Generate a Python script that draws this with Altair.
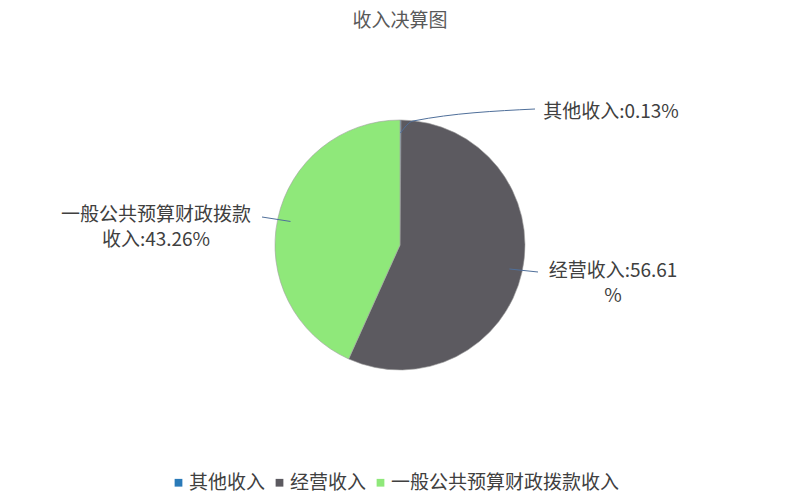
import altair as alt
import pandas as pd
import numpy as np

# ---- data ----
categories = ["其他收入", "经营收入", "一般公共预算财政拨款收入"]
shares = [0.13, 56.61, 43.26]
label_texts = ["其他收入:0.13%", "经营收入:56.61\n%", "一般公共预算财政拨款\n收入:43.26%"]
title_text = "收入决算图"

# ---- styles / layout ----
colors = ["#2a7ab8", "#5c5a60", "#8fe87a"]
FONT = "Noto Sans CJK SC"
FS = 19
W, H = 784, 474
R = 125
LEAD_R = 112
label_pos = [(211, 133), (213, -26), (-244, 30)]
leader_mid = [[(13, 124)], [], []]
leader_end = [(135, 136), (138, -27), (-138, 28)]

sh = np.array(shares, dtype=float)
mid = (np.cumsum(sh) - sh / 2) / sh.sum() * 2 * np.pi

pie_df = pd.DataFrame({"cat": categories, "share": shares, "idx": list(range(len(categories)))})

rows = []
for i, c in enumerate(categories):
    pts = [(LEAD_R * np.sin(mid[i]), LEAD_R * np.cos(mid[i]))] + leader_mid[i] + [leader_end[i]]
    for k, (px, py) in enumerate(pts):
        rows.append({"cat": c, "o": k, "x": float(px), "y": float(py)})
lines_df = pd.DataFrame(rows)

labels_df = pd.DataFrame({
    "x": [p[0] for p in label_pos],
    "y": [p[1] for p in label_pos],
    "t": label_texts,
})

xs = alt.Scale(domain=[-W / 2, W / 2])
ys = alt.Scale(domain=[-H / 2, H / 2])

arc = alt.Chart(pie_df).mark_arc(radius=R, stroke="#a0a0a0", strokeWidth=0.6).encode(
    theta=alt.Theta("share:Q", stack=True),
    order=alt.Order("idx:Q"),
    color=alt.Color(
        "cat:N",
        scale=alt.Scale(domain=categories, range=colors),
        legend=alt.Legend(
            title=None, orient="none", direction="horizontal",
            legendX=161, legendY=465,
            symbolType="square", symbolSize=60, symbolStrokeWidth=0,
            labelFont=FONT, labelFontSize=FS, labelColor="#404040", labelLimit=400,
            labelOffset=1, columnPadding=4, symbolOffset=0,
        ),
    ),
)

lines = alt.Chart(lines_df).mark_line(color="#4f6f9a", strokeWidth=1, interpolate="monotone").encode(
    x=alt.X("x:Q", scale=xs, axis=None),
    y=alt.Y("y:Q", scale=ys, axis=None),
    detail="cat:N",
    order="o:Q",
)

labels = alt.Chart(labels_df).mark_text(
    align="center", baseline="middle", font=FONT, fontSize=FS,
    color="#404040", lineBreak="\n", lineHeight=25,
).encode(x=alt.X("x:Q", scale=xs, axis=None), y=alt.Y("y:Q", scale=ys, axis=None), text="t:N")

title_df = pd.DataFrame({"x": [0], "y": [224], "t": [title_text]})
title = alt.Chart(title_df).mark_text(
    align="center", baseline="middle", font=FONT, fontSize=FS, color="#595959"
).encode(x=alt.X("x:Q", scale=xs, axis=None), y=alt.Y("y:Q", scale=ys, axis=None), text="t:N")

chart = alt.layer(arc, lines, labels, title).properties(
    width=W, height=H, padding=0
).configure_view(stroke=None)

chart.save("out.html", embed_options={"renderer": "svg", "actions": False})
